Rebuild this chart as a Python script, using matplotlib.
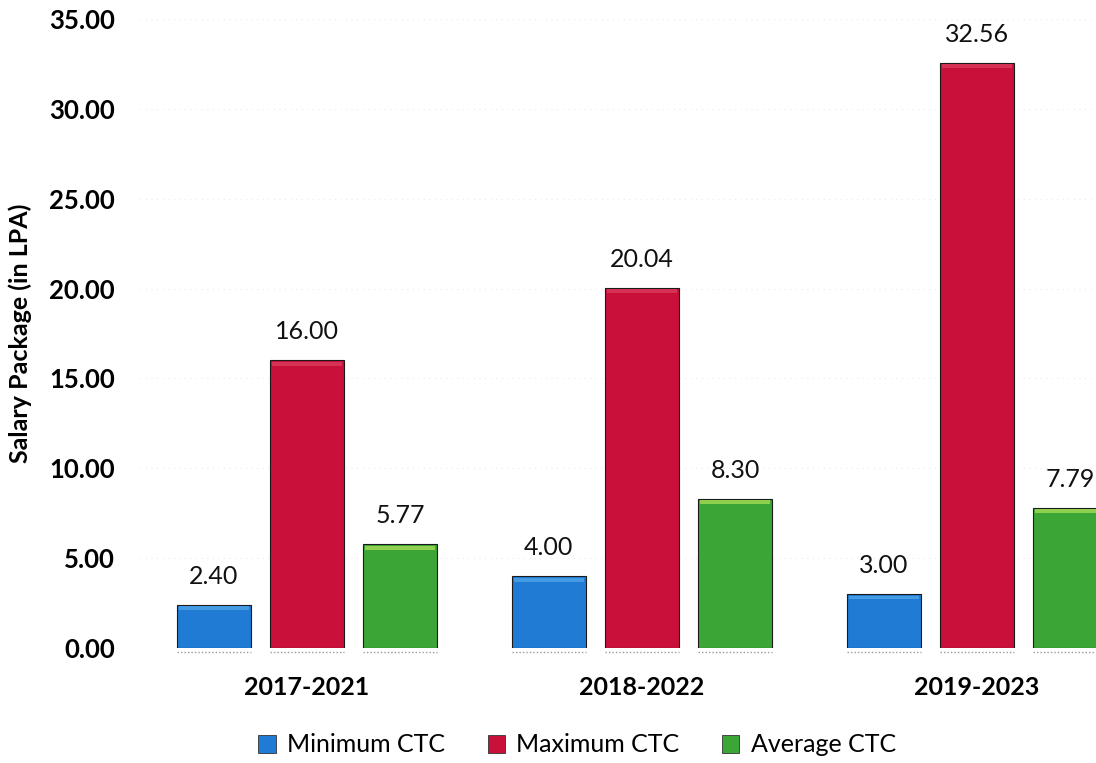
import numpy as np
import matplotlib.pyplot as plt
from matplotlib.patches import Patch

# Placement salary packages (LPA) per batch
batches = ['2017-2021', '2018-2022', '2019-2023']
min_ctc = [2.40, 4.00, 3.00]
max_ctc = [16.00, 20.04, 32.56]
avg_ctc = [5.77, 8.30, 7.79]

series = [
    ('Minimum CTC', min_ctc, '#1f7bd4', '#5fb0f0'),
    ('Maximum CTC', max_ctc, '#c8103a', '#e04a68'),
    ('Average CTC', avg_ctc, '#3ba535', '#c8f060'),
]

plt.rcParams['font.family'] = ['Lato', 'DejaVu Sans']

W, H = 1096, 763
fig = plt.figure(figsize=(W / 100, H / 100), dpi=100)
ax = fig.add_axes([140 / W, (H - 648) / H, (W - 140) / W, (648 - 19) / H])

x = np.arange(len(batches))
width = 0.221
step = 0.278

for i, (name, vals, color, light) in enumerate(series):
    pos = x + (i - 1) * step
    ax.bar(pos, vals, width, color=color, edgecolor='#1a1a1a',
           linewidth=0.8, zorder=3, label=name)
    # bevel highlight along the top of each bar
    ax.bar(pos, [0.22] * len(vals), width * 0.94, bottom=np.array(vals) - 0.3,
           color=light, alpha=0.6, linewidth=0, zorder=4)
    # dotted floor under each bar
    ax.hlines([-0.25] * len(vals), pos - width / 2, pos + width / 2,
              colors='#9a9a9a', linestyles=(0, (1, 1.5)), linewidth=1, zorder=2,
              clip_on=False)
    for p, v in zip(pos, vals):
        ax.text(p, v + 1.6, f'{v:.2f}', ha='center', va='center',
                fontsize=18, color='#111111', zorder=5)

ax.set_xlim((140 - 307) / 335, (W - 307) / 335)
ax.set_ylim(0, 35)
ax.set_yticks(np.arange(0, 36, 5))
ax.set_yticklabels([f'{t:.2f}' for t in np.arange(0, 36, 5)],
                   fontsize=18.5, fontweight='bold')
ax.set_xticks(x)
ax.set_xticklabels(batches, fontsize=18, fontweight='bold')
ax.tick_params(axis='y', length=0, pad=18)
ax.tick_params(axis='x', length=0, pad=20)
ax.set_ylabel('Salary Package (in LPA)', fontsize=18, fontweight='bold')
ax.yaxis.set_label_coords(-108 / (W - 140), 0.5)

ax.grid(axis='y', color='#ececec', linestyle=(0, (1, 4)), linewidth=0.8, zorder=0)
for s in ax.spines.values():
    s.set_visible(False)

handles = [Patch(facecolor=c, edgecolor='#333333', linewidth=0.6, label=n)
           for n, _, c, _ in series]
fig.legend(handles=handles, loc='center', bbox_to_anchor=(577 / W, 1 - 745 / H),
           ncol=3, frameon=False, fontsize=18, handlelength=0.7,
           handleheight=0.7, handletextpad=0.45, columnspacing=1.7)

fig.savefig('out.png', dpi=100)
